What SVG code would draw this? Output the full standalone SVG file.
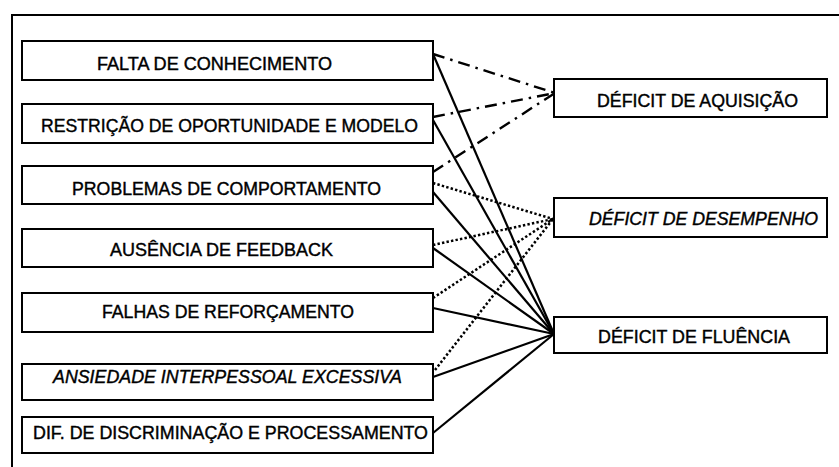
<svg xmlns="http://www.w3.org/2000/svg" width="839" height="467" viewBox="0 0 839 467">
<style>
.box{fill:#fff;stroke:#000;stroke-width:2}
.t{font-family:"Liberation Sans",Arial,sans-serif;font-size:17.5px;fill:#000;stroke:#000;stroke-width:0.4}
.it{font-style:italic}
.solid{stroke:#000;stroke-width:2.2;fill:none}
.dd{stroke:#000;stroke-width:2.4;fill:none;stroke-dasharray:12 6 2.5 6}
.dot{stroke:#000;stroke-width:2.5;fill:none;stroke-dasharray:2.4 2.2}
.frame{stroke:#000;stroke-width:2;fill:none}
</style>
<rect width="839" height="467" fill="#fff"/>
<path class="frame" d="M12,467 V15 H839"/>
<g id="connectors">
<line class="dd" x1="433" y1="54" x2="555" y2="93"/>
<line class="dd" x1="433" y1="117" x2="555" y2="93"/>
<line class="dd" x1="433" y1="172" x2="555" y2="93"/>
<line class="dot" x1="433" y1="183" x2="553" y2="219"/>
<line class="dot" x1="433" y1="245" x2="553" y2="219"/>
<line class="dot" x1="433" y1="298" x2="553" y2="219"/>
<line class="dot" x1="435" y1="370" x2="553" y2="219"/>
<line class="solid" x1="433" y1="54" x2="554" y2="334"/>
<line class="solid" x1="433" y1="120" x2="554" y2="334"/>
<line class="solid" x1="433" y1="192" x2="554" y2="334"/>
<line class="solid" x1="433" y1="248" x2="554" y2="334"/>
<line class="solid" x1="433" y1="308" x2="554" y2="334"/>
<line class="solid" x1="433" y1="377" x2="554" y2="334"/>
<line class="solid" x1="433" y1="433" x2="554" y2="334"/>
</g>
<g id="n1"><rect class="box" x="22" y="41" width="411" height="39"/><text class="t" x="97" y="70" textLength="235" lengthAdjust="spacingAndGlyphs">FALTA DE CONHECIMENTO</text></g>
<g id="n2"><rect class="box" x="22" y="104" width="411" height="39"/><text class="t" x="41" y="132" textLength="377" lengthAdjust="spacingAndGlyphs">RESTRIÇÃO DE OPORTUNIDADE E MODELO</text></g>
<g id="n3"><rect class="box" x="22" y="166" width="411" height="38"/><text class="t" x="72" y="195" textLength="309" lengthAdjust="spacingAndGlyphs">PROBLEMAS DE COMPORTAMENTO</text></g>
<g id="n4"><rect class="box" x="22" y="229" width="411" height="38"/><text class="t" x="110" y="256" textLength="223" lengthAdjust="spacingAndGlyphs">AUSÊNCIA DE FEEDBACK</text></g>
<g id="n5"><rect class="box" x="22" y="293" width="411" height="39"/><text class="t" x="102" y="318" textLength="252" lengthAdjust="spacingAndGlyphs">FALHAS DE REFORÇAMENTO</text></g>
<g id="n6"><rect class="box" x="22" y="364" width="411" height="36"/><text class="t it" x="53" y="383" textLength="349" lengthAdjust="spacingAndGlyphs">ANSIEDADE INTERPESSOAL EXCESSIVA</text></g>
<g id="n7"><rect class="box" x="22" y="417" width="411" height="36"/><text class="t" x="33" y="439" textLength="395" lengthAdjust="spacingAndGlyphs">DIF. DE DISCRIMINAÇÃO E PROCESSAMENTO</text></g>
<g id="r1"><rect class="box" x="554" y="79" width="273" height="38"/><text class="t" x="597" y="107" textLength="201" lengthAdjust="spacingAndGlyphs">DÉFICIT DE AQUISIÇÃO</text></g>
<g id="r2"><rect class="box" x="554" y="198" width="273" height="39"/><text class="t it" x="589" y="225" textLength="229" lengthAdjust="spacingAndGlyphs">DÉFICIT DE DESEMPENHO</text></g>
<g id="r3"><rect class="box" x="554" y="317" width="273" height="36"/><text class="t" x="598" y="343" textLength="192" lengthAdjust="spacingAndGlyphs">DÉFICIT DE FLUÊNCIA</text></g>
</svg>
